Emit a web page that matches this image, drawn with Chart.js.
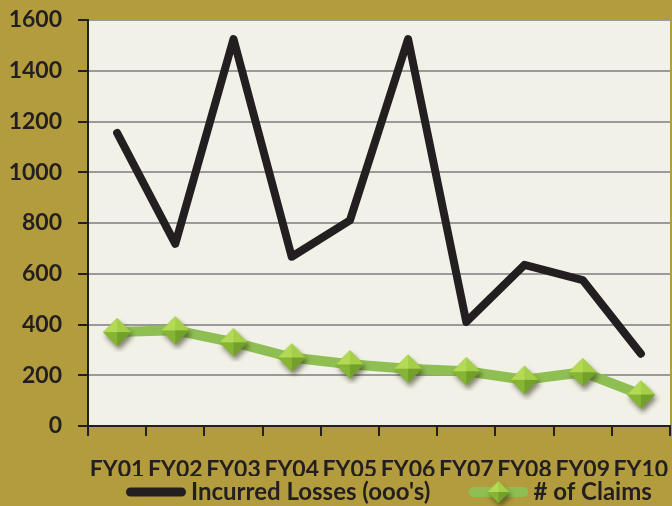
<!DOCTYPE html>
<html>
<head>
<meta charset="utf-8">
<script src="https://cdn.jsdelivr.net/npm/chart.js@4.4.0/dist/chart.umd.min.js"></script>
<style>
html,body{margin:0;padding:0;background:#b39c3e;overflow:hidden;}
#wrap{width:672px;height:506px;position:relative;overflow:hidden;}
#wrap canvas{display:block;}
</style>
</head>
<body>
<div id="wrap"><canvas id="c"></canvas></div>
<script>
const categories = ['FY01','FY02','FY03','FY04','FY05','FY06','FY07','FY08','FY09','FY10'];
const incurredLosses = [1155, 718, 1525, 667, 810, 1525, 410, 635, 575, 285];
const claims = [370, 377, 330, 270, 243, 226, 216, 182, 212, 124];
const yTicks = [0, 200, 400, 600, 800, 1000, 1200, 1400, 1600];
const seriesNames = ["Incurred Losses (ooo's)", '# of Claims'];

const INK = '#231f20';
const GREEN = '#8fbf52';
const FONT = 'Lato';

function diamondCanvas(r, shadow) {
  const s = Math.ceil(r * 2 + 12);
  const cv = document.createElement('canvas');
  cv.width = s; cv.height = s;
  const g = cv.getContext('2d');
  const c = s / 2;
  if (shadow) {
    g.save();
    g.shadowColor = 'rgba(40,40,20,0.55)';
    g.shadowBlur = 5;
    g.shadowOffsetX = 2;
    g.shadowOffsetY = 4;
    g.beginPath();
    g.moveTo(c, c - r); g.lineTo(c + r, c); g.lineTo(c, c + r); g.lineTo(c - r, c); g.closePath();
    g.fillStyle = '#7fae2e';
    g.fill();
    g.restore();
  }
  const T = [c, c - r], R = [c + r, c], B = [c, c + r], L = [c - r, c], C = [c, c];
  const tri = (a, b, col) => { g.beginPath(); g.moveTo(a[0], a[1]); g.lineTo(b[0], b[1]); g.lineTo(C[0], C[1]); g.closePath(); g.fillStyle = col; g.fill(); };
  tri(T, L, '#b3d955');
  tri(T, R, '#a5cf47');
  tri(L, B, '#86b533');
  tri(R, B, '#73a02a');
  return cv;
}

const F = 24, P = 4, B = 99 - F / 2;
const swStart = 34 - B / 2, swEnd = 94 - B / 2;
function legendCanvas(kind) {
  const w = Math.ceil(2 * Math.max(swEnd, -swStart)), h = 34;
  const cv = document.createElement('canvas');
  cv.width = w; cv.height = h;
  const g = cv.getContext('2d');
  const cx = w / 2;
  const x0 = cx + swStart, x1 = cx + swEnd;
  if (kind === 0) {
    g.lineCap = 'round';
    g.strokeStyle = INK; g.lineWidth = 9;
    g.beginPath(); g.moveTo(x0 + 4.5, h / 2); g.lineTo(x1 - 4.5, h / 2); g.stroke();
  } else {
    g.lineCap = 'round';
    g.strokeStyle = GREEN; g.lineWidth = 10;
    g.beginPath(); g.moveTo(x0 + 5, h / 2); g.lineTo(x1 - 5, h / 2); g.stroke();
    const d = diamondCanvas(11, true);
    g.drawImage(d, (x0 + x1) / 2 - d.width / 2, h / 2 - d.height / 2);
  }
  return cv;
}

const markerImg = diamondCanvas(14, true);
const legendImgs = [legendCanvas(0), legendCanvas(1)];

const plotBg = {
  id: 'plotBg',
  beforeDraw(chart) {
    const {ctx, chartArea: a} = chart;
    ctx.save();
    ctx.fillStyle = '#b39c3e';
    ctx.fillRect(0, 0, chart.width, chart.height);
    ctx.fillStyle = '#f2f1e7';
    ctx.fillRect(a.left, a.top, a.right - a.left, a.bottom - a.top);
    ctx.restore();
  }
};

new Chart(document.getElementById('c'), {
  type: 'line',
  data: {
    labels: categories,
    datasets: [
      {
        label: seriesNames[0],
        data: incurredLosses,
        borderColor: INK,
        backgroundColor: INK,
        borderWidth: 8,
        borderCapStyle: 'round',
        borderJoinStyle: 'round',
        pointRadius: 0,
        tension: 0
      },
      {
        label: seriesNames[1],
        data: claims,
        borderColor: GREEN,
        backgroundColor: GREEN,
        borderWidth: 10,
        borderJoinStyle: 'round',
        pointStyle: markerImg,
        pointRadius: 14,
        tension: 0
      }
    ]
  },
  options: {
    responsive: true,
    maintainAspectRatio: false,
    animation: false,
    devicePixelRatio: 1,
    layout: { autoPadding: false, padding: { top: 20, right: 2, bottom: -8, left: 0 } },
    plugins: {
      tooltip: { enabled: false },
      legend: {
        position: 'bottom',
        align: 'start',
        fullSize: false,
        labels: {
          usePointStyle: true,
          pointStyleWidth: B,
          padding: P,
          color: INK,
          font: { family: FONT, weight: 'bold', size: F },
          generateLabels(chart) {
            return chart.data.datasets.map((ds, i) => ({
              text: ds.label,
              fillStyle: ds.borderColor,
              strokeStyle: ds.borderColor,
              lineWidth: 0,
              hidden: false,
              datasetIndex: i,
              pointStyle: legendImgs[i],
              fontColor: INK
            }));
          }
        }
      }
    },
    scales: {
      x: {
        type: 'category',
        offset: true,
        afterFit(scale) { scale.height = 50; scale.paddingLeft = 0; scale.paddingRight = 0; },
        grid: { offset: true, drawOnChartArea: false, drawTicks: true, tickLength: 10, color: INK, lineWidth: 2 },
        border: { display: true, color: INK, width: 2 },
        ticks: {
          color: INK,
          font: { family: FONT, weight: 'bold', size: 23, lineHeight: 0.96 },
          padding: 0,
          maxRotation: 0,
          autoSkip: false,
          callback: (v, i) => ['', categories[i]]
        }
      },
      y: {
        min: 0,
        max: 1600,
        afterFit(scale) { scale.width = 88; scale.paddingTop = 0; scale.paddingBottom = 0; },
        afterBuildTicks(scale) { scale.ticks = yTicks.map(v => ({ value: v })); },
        grid: { color: '#9a9a9a', lineWidth: 2, tickLength: 10, tickColor: INK },
        border: { display: true, color: INK, width: 2 },
        ticks: { color: INK, font: { family: FONT, weight: 'bold', size: 23 }, padding: 16, callback: v => String(v) }
      }
    }
  },
  plugins: [plotBg]
});
</script>
</body>
</html>
